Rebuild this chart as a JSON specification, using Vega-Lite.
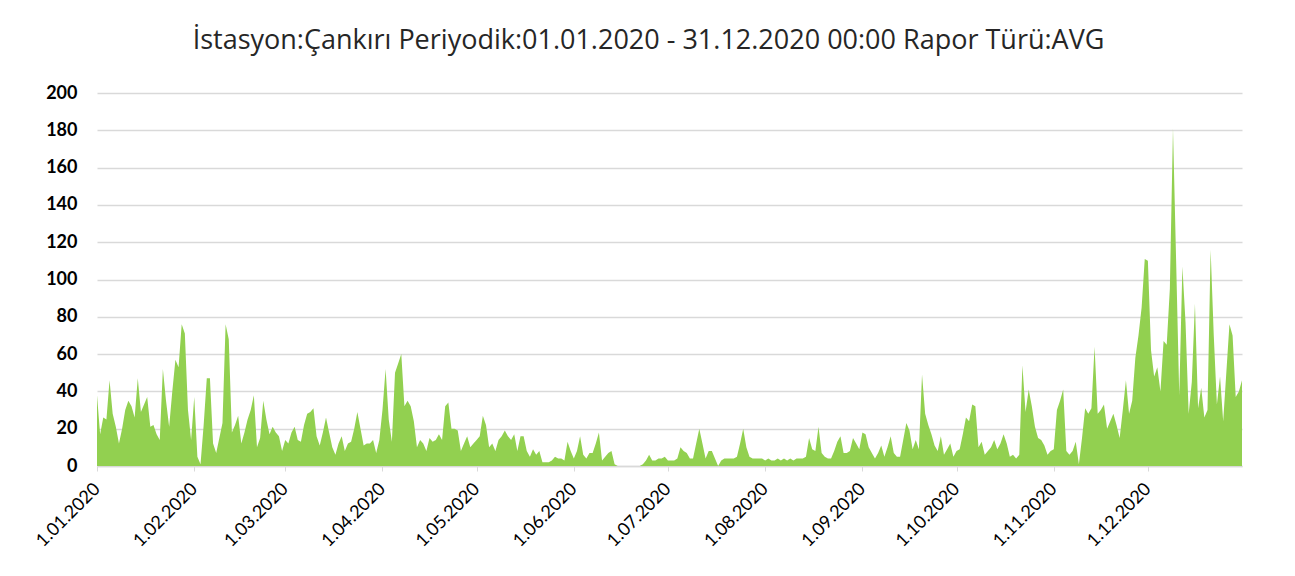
{
  "$schema": "https://vega.github.io/schema/vega-lite/v6.json",
  "width": 1145,
  "height": 373,
  "autosize": {"type": "none"},
  "padding": {"left": 97, "top": 93, "right": 53, "bottom": 110},
  "background": "white",
  "title": {
    "text": "İstasyon:Çankırı Periyodik:01.01.2020 - 31.12.2020 00:00 Rapor Türü:AVG",
    "font": "Open Sans",
    "fontSize": 27,
    "fontWeight": "normal",
    "color": "#262626",
    "anchor": "middle",
    "dx": -21,
    "offset": 29
  },
  "datasets": {
    "d": [
{"date":"2020-01-01","v":38},{"date":"2020-01-02","v":17},{"date":"2020-01-03","v":26},{"date":"2020-01-04","v":25},{"date":"2020-01-05","v":46},{"date":"2020-01-06","v":28},{"date":"2020-01-07","v":21},{"date":"2020-01-08","v":12},{"date":"2020-01-09","v":20},{"date":"2020-01-10","v":30},{"date":"2020-01-11","v":35},{"date":"2020-01-12","v":32},{"date":"2020-01-13","v":26},{"date":"2020-01-14","v":47},{"date":"2020-01-15","v":29},{"date":"2020-01-16","v":33},{"date":"2020-01-17","v":37},{"date":"2020-01-18","v":21},{"date":"2020-01-19","v":22},{"date":"2020-01-20","v":17},{"date":"2020-01-21","v":14},{"date":"2020-01-22","v":52},{"date":"2020-01-23","v":35},{"date":"2020-01-24","v":21},{"date":"2020-01-25","v":40},{"date":"2020-01-26","v":57},{"date":"2020-01-27","v":53},{"date":"2020-01-28","v":76},{"date":"2020-01-29","v":71},{"date":"2020-01-30","v":30},{"date":"2020-01-31","v":14},
{"date":"2020-02-01","v":37},{"date":"2020-02-02","v":5},{"date":"2020-02-03","v":1},{"date":"2020-02-04","v":22},{"date":"2020-02-05","v":47},{"date":"2020-02-06","v":47},{"date":"2020-02-07","v":12},{"date":"2020-02-08","v":7},{"date":"2020-02-09","v":15},{"date":"2020-02-10","v":23},{"date":"2020-02-11","v":76},{"date":"2020-02-12","v":68},{"date":"2020-02-13","v":18},{"date":"2020-02-14","v":22},{"date":"2020-02-15","v":27},{"date":"2020-02-16","v":12},{"date":"2020-02-17","v":18},{"date":"2020-02-18","v":25},{"date":"2020-02-19","v":30},{"date":"2020-02-20","v":38},{"date":"2020-02-21","v":10},{"date":"2020-02-22","v":15},{"date":"2020-02-23","v":35},{"date":"2020-02-24","v":25},{"date":"2020-02-25","v":17},{"date":"2020-02-26","v":21},{"date":"2020-02-27","v":18},{"date":"2020-02-28","v":16},{"date":"2020-02-29","v":8},
{"date":"2020-03-01","v":14},{"date":"2020-03-02","v":12},{"date":"2020-03-03","v":18},{"date":"2020-03-04","v":21},{"date":"2020-03-05","v":14},{"date":"2020-03-06","v":13},{"date":"2020-03-07","v":22},{"date":"2020-03-08","v":28},{"date":"2020-03-09","v":29},{"date":"2020-03-10","v":31},{"date":"2020-03-11","v":16},{"date":"2020-03-12","v":11},{"date":"2020-03-13","v":18},{"date":"2020-03-14","v":26},{"date":"2020-03-15","v":18},{"date":"2020-03-16","v":10},{"date":"2020-03-17","v":6},{"date":"2020-03-18","v":12},{"date":"2020-03-19","v":16},{"date":"2020-03-20","v":8},{"date":"2020-03-21","v":12},{"date":"2020-03-22","v":13},{"date":"2020-03-23","v":20},{"date":"2020-03-24","v":29},{"date":"2020-03-25","v":20},{"date":"2020-03-26","v":11},{"date":"2020-03-27","v":12},{"date":"2020-03-28","v":12},{"date":"2020-03-29","v":14},{"date":"2020-03-30","v":7},{"date":"2020-03-31","v":14},
{"date":"2020-04-01","v":30},{"date":"2020-04-02","v":52},{"date":"2020-04-03","v":25},{"date":"2020-04-04","v":13},{"date":"2020-04-05","v":50},{"date":"2020-04-06","v":55},{"date":"2020-04-07","v":60},{"date":"2020-04-08","v":32},{"date":"2020-04-09","v":35},{"date":"2020-04-10","v":32},{"date":"2020-04-11","v":24},{"date":"2020-04-12","v":10},{"date":"2020-04-13","v":14},{"date":"2020-04-14","v":12},{"date":"2020-04-15","v":8},{"date":"2020-04-16","v":15},{"date":"2020-04-17","v":13},{"date":"2020-04-18","v":14},{"date":"2020-04-19","v":17},{"date":"2020-04-20","v":14},{"date":"2020-04-21","v":32},{"date":"2020-04-22","v":34},{"date":"2020-04-23","v":20},{"date":"2020-04-24","v":20},{"date":"2020-04-25","v":19},{"date":"2020-04-26","v":8},{"date":"2020-04-27","v":12},{"date":"2020-04-28","v":16},{"date":"2020-04-29","v":10},{"date":"2020-04-30","v":12},
{"date":"2020-05-01","v":14},{"date":"2020-05-02","v":16},{"date":"2020-05-03","v":27},{"date":"2020-05-04","v":22},{"date":"2020-05-05","v":10},{"date":"2020-05-06","v":12},{"date":"2020-05-07","v":8},{"date":"2020-05-08","v":14},{"date":"2020-05-09","v":16},{"date":"2020-05-10","v":19},{"date":"2020-05-11","v":16},{"date":"2020-05-12","v":14},{"date":"2020-05-13","v":17},{"date":"2020-05-14","v":8},{"date":"2020-05-15","v":16},{"date":"2020-05-16","v":16},{"date":"2020-05-17","v":8},{"date":"2020-05-18","v":5},{"date":"2020-05-19","v":9},{"date":"2020-05-20","v":6},{"date":"2020-05-21","v":8},{"date":"2020-05-22","v":2},{"date":"2020-05-23","v":2},{"date":"2020-05-24","v":2},{"date":"2020-05-25","v":3},{"date":"2020-05-26","v":5},{"date":"2020-05-27","v":4},{"date":"2020-05-28","v":4},{"date":"2020-05-29","v":3},{"date":"2020-05-30","v":13},{"date":"2020-05-31","v":8},
{"date":"2020-06-01","v":4},{"date":"2020-06-02","v":8},{"date":"2020-06-03","v":16},{"date":"2020-06-04","v":6},{"date":"2020-06-05","v":4},{"date":"2020-06-06","v":7},{"date":"2020-06-07","v":7},{"date":"2020-06-08","v":12},{"date":"2020-06-09","v":18},{"date":"2020-06-10","v":3},{"date":"2020-06-11","v":5},{"date":"2020-06-12","v":7},{"date":"2020-06-13","v":8},{"date":"2020-06-14","v":1},{"date":"2020-06-15","v":0},{"date":"2020-06-16","v":0},{"date":"2020-06-17","v":0},{"date":"2020-06-18","v":0},{"date":"2020-06-19","v":0},{"date":"2020-06-20","v":0},{"date":"2020-06-21","v":0},{"date":"2020-06-22","v":0},{"date":"2020-06-23","v":1},{"date":"2020-06-24","v":3},{"date":"2020-06-25","v":6},{"date":"2020-06-26","v":3},{"date":"2020-06-27","v":3},{"date":"2020-06-28","v":4},{"date":"2020-06-29","v":4},{"date":"2020-06-30","v":5},
{"date":"2020-07-01","v":3},{"date":"2020-07-02","v":3},{"date":"2020-07-03","v":3},{"date":"2020-07-04","v":4},{"date":"2020-07-05","v":10},{"date":"2020-07-06","v":8},{"date":"2020-07-07","v":7},{"date":"2020-07-08","v":4},{"date":"2020-07-09","v":4},{"date":"2020-07-10","v":12},{"date":"2020-07-11","v":20},{"date":"2020-07-12","v":12},{"date":"2020-07-13","v":4},{"date":"2020-07-14","v":8},{"date":"2020-07-15","v":8},{"date":"2020-07-16","v":4},{"date":"2020-07-17","v":0},{"date":"2020-07-18","v":3},{"date":"2020-07-19","v":4},{"date":"2020-07-20","v":4},{"date":"2020-07-21","v":4},{"date":"2020-07-22","v":4},{"date":"2020-07-23","v":5},{"date":"2020-07-24","v":12},{"date":"2020-07-25","v":20},{"date":"2020-07-26","v":10},{"date":"2020-07-27","v":5},{"date":"2020-07-28","v":4},{"date":"2020-07-29","v":4},{"date":"2020-07-30","v":4},{"date":"2020-07-31","v":4},
{"date":"2020-08-01","v":3},{"date":"2020-08-02","v":4},{"date":"2020-08-03","v":3},{"date":"2020-08-04","v":3},{"date":"2020-08-05","v":4},{"date":"2020-08-06","v":3},{"date":"2020-08-07","v":4},{"date":"2020-08-08","v":3},{"date":"2020-08-09","v":4},{"date":"2020-08-10","v":3},{"date":"2020-08-11","v":4},{"date":"2020-08-12","v":4},{"date":"2020-08-13","v":4},{"date":"2020-08-14","v":5},{"date":"2020-08-15","v":15},{"date":"2020-08-16","v":9},{"date":"2020-08-17","v":8},{"date":"2020-08-18","v":21},{"date":"2020-08-19","v":7},{"date":"2020-08-20","v":5},{"date":"2020-08-21","v":4},{"date":"2020-08-22","v":4},{"date":"2020-08-23","v":8},{"date":"2020-08-24","v":13},{"date":"2020-08-25","v":16},{"date":"2020-08-26","v":7},{"date":"2020-08-27","v":7},{"date":"2020-08-28","v":8},{"date":"2020-08-29","v":15},{"date":"2020-08-30","v":12},{"date":"2020-08-31","v":9},
{"date":"2020-09-01","v":18},{"date":"2020-09-02","v":17},{"date":"2020-09-03","v":10},{"date":"2020-09-04","v":7},{"date":"2020-09-05","v":4},{"date":"2020-09-06","v":7},{"date":"2020-09-07","v":11},{"date":"2020-09-08","v":5},{"date":"2020-09-09","v":10},{"date":"2020-09-10","v":16},{"date":"2020-09-11","v":7},{"date":"2020-09-12","v":5},{"date":"2020-09-13","v":5},{"date":"2020-09-14","v":14},{"date":"2020-09-15","v":23},{"date":"2020-09-16","v":19},{"date":"2020-09-17","v":9},{"date":"2020-09-18","v":14},{"date":"2020-09-19","v":9},{"date":"2020-09-20","v":49},{"date":"2020-09-21","v":28},{"date":"2020-09-22","v":22},{"date":"2020-09-23","v":17},{"date":"2020-09-24","v":11},{"date":"2020-09-25","v":8},{"date":"2020-09-26","v":16},{"date":"2020-09-27","v":6},{"date":"2020-09-28","v":9},{"date":"2020-09-29","v":12},{"date":"2020-09-30","v":5},
{"date":"2020-10-01","v":8},{"date":"2020-10-02","v":9},{"date":"2020-10-03","v":17},{"date":"2020-10-04","v":26},{"date":"2020-10-05","v":24},{"date":"2020-10-06","v":33},{"date":"2020-10-07","v":32},{"date":"2020-10-08","v":10},{"date":"2020-10-09","v":13},{"date":"2020-10-10","v":6},{"date":"2020-10-11","v":8},{"date":"2020-10-12","v":10},{"date":"2020-10-13","v":14},{"date":"2020-10-14","v":9},{"date":"2020-10-15","v":12},{"date":"2020-10-16","v":17},{"date":"2020-10-17","v":12},{"date":"2020-10-18","v":5},{"date":"2020-10-19","v":6},{"date":"2020-10-20","v":4},{"date":"2020-10-21","v":6},{"date":"2020-10-22","v":54},{"date":"2020-10-23","v":29},{"date":"2020-10-24","v":41},{"date":"2020-10-25","v":32},{"date":"2020-10-26","v":21},{"date":"2020-10-27","v":15},{"date":"2020-10-28","v":14},{"date":"2020-10-29","v":11},{"date":"2020-10-30","v":6},{"date":"2020-10-31","v":8},
{"date":"2020-11-01","v":9},{"date":"2020-11-02","v":30},{"date":"2020-11-03","v":35},{"date":"2020-11-04","v":41},{"date":"2020-11-05","v":8},{"date":"2020-11-06","v":6},{"date":"2020-11-07","v":8},{"date":"2020-11-08","v":13},{"date":"2020-11-09","v":1},{"date":"2020-11-10","v":15},{"date":"2020-11-11","v":31},{"date":"2020-11-12","v":28},{"date":"2020-11-13","v":31},{"date":"2020-11-14","v":64},{"date":"2020-11-15","v":28},{"date":"2020-11-16","v":30},{"date":"2020-11-17","v":33},{"date":"2020-11-18","v":20},{"date":"2020-11-19","v":24},{"date":"2020-11-20","v":28},{"date":"2020-11-21","v":22},{"date":"2020-11-22","v":15},{"date":"2020-11-23","v":30},{"date":"2020-11-24","v":46},{"date":"2020-11-25","v":28},{"date":"2020-11-26","v":35},{"date":"2020-11-27","v":58},{"date":"2020-11-28","v":70},{"date":"2020-11-29","v":85},{"date":"2020-11-30","v":111},
{"date":"2020-12-01","v":110},{"date":"2020-12-02","v":62},{"date":"2020-12-03","v":48},{"date":"2020-12-04","v":53},{"date":"2020-12-05","v":40},{"date":"2020-12-06","v":67},{"date":"2020-12-07","v":65},{"date":"2020-12-08","v":95},{"date":"2020-12-09","v":181},{"date":"2020-12-10","v":110},{"date":"2020-12-11","v":38},{"date":"2020-12-12","v":107},{"date":"2020-12-13","v":77},{"date":"2020-12-14","v":28},{"date":"2020-12-15","v":45},{"date":"2020-12-16","v":87},{"date":"2020-12-17","v":31},{"date":"2020-12-18","v":42},{"date":"2020-12-19","v":26},{"date":"2020-12-20","v":30},{"date":"2020-12-21","v":116},{"date":"2020-12-22","v":70},{"date":"2020-12-23","v":33},{"date":"2020-12-24","v":48},{"date":"2020-12-25","v":24},{"date":"2020-12-26","v":50},{"date":"2020-12-27","v":76},{"date":"2020-12-28","v":70},{"date":"2020-12-29","v":37},{"date":"2020-12-30","v":40},{"date":"2020-12-31","v":46}
    ]
  },
  "data": {"name": "d"},
  "mark": {"type": "area", "color": "#92D050", "interpolate": "linear"},
  "encoding": {
    "x": {
      "field": "date",
      "type": "temporal",
      "scale": {"type": "utc", "domain": ["2020-01-01", "2020-12-31"]},
      "axis": {
        "title": null,
        "format": "%-d.%m.%Y",
        "tickCount": {"interval": "month", "step": 1},
        "labelAngle": -45,
        "labelAlign": "right",
        "labelBaseline": "middle",
        "labelFont": "Lato",
        "labelFontSize": 18,
        "labelColor": "#000000",
        "labelPadding": 15,
        "labelOverlap": false,
        "labelFlush": false,
        "grid": false,
        "domainColor": "#d9d9d9",
        "domainWidth": 1.5,
        "tickColor": "#d9d9d9",
        "tickSize": 5
      }
    },
    "y": {
      "field": "v",
      "type": "quantitative",
      "scale": {"domain": [0, 200], "nice": false},
      "axis": {
        "title": null,
        "values": [0, 20, 40, 60, 80, 100, 120, 140, 160, 180, 200],
        "labelFont": "Lato",
        "labelFontSize": 18,
        "labelFontWeight": "bold",
        "labelColor": "#000000",
        "labelPadding": 20,
        "ticks": false,
        "domain": false,
        "gridColor": "#d9d9d9",
        "gridWidth": 1.5
      }
    }
  },
  "config": {"view": {"stroke": null}}
}
